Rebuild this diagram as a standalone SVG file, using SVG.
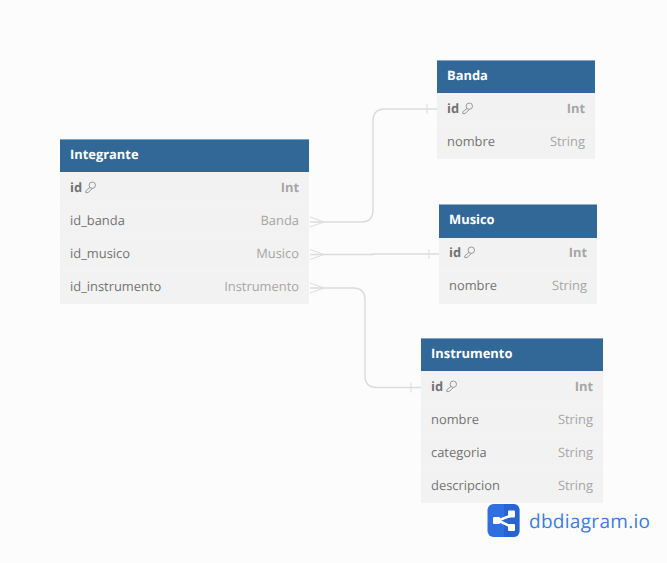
<svg xmlns="http://www.w3.org/2000/svg" width="667" height="563" viewBox="0 0 667 563">
<defs>
<style>
text{font-family:"Open Sans","Noto Sans",sans-serif;font-size:12.900px;text-rendering:geometricPrecision}
.h{fill:#fff;font-weight:700}
.n{fill:#737373}
.b{fill:#737373;font-weight:700}
.t{fill:#a6a6a6;text-anchor:end}
.ti{fill:#a6a6a6;text-anchor:end;font-weight:700}
.body{fill:#f2f2f2}
.head{fill:#316897}
.sep{stroke:#f4f4f4;stroke-width:1;fill:none}
.top{stroke:#7fa3c2;stroke-width:1;fill:none}
.c{fill:none;stroke:#dcdcdc;stroke-width:1.500}
.m{fill:none;stroke:#dcdcdc;stroke-width:1}
</style>
<g id="key"><g fill="none" stroke="#8f8f8f" stroke-width=".9"><circle cx="7.300" cy="-2.800" r="3.200"/><path d="M5 -.6L.8 2.800L.8 4.600L3 4.600L7.500 .4"/></g></g>
</defs>
<rect width="667" height="563" fill="#fcfcfc"/>
<g id="connectors">
<path class="c" d="M310 222H361Q373 222 373 210V121Q373 109 385 109H437"/>
<path class="m" d="M310 217L324 222L310 227M427 104V114"/>
<path class="c" d="M310 254.500H373V254H439"/>
<path class="m" d="M310 249.500L324 254.500L310 259.500M429 249V259"/>
<path class="c" d="M310 288H353Q365 288 365 300V376Q365 387.500 377 387.500H421"/>
<path class="m" d="M310 283L324 288L310 293M411 382.500V392.500"/>
</g>
<g id="integrante">
<rect class="body" x="60" y="139" width="249" height="165"/>
<rect class="head" x="60" y="139" width="249" height="33"/>
<path class="top" d="M60 139.500H309"/>
<path class="sep" d="M60 205.500H309M60 238.500H309M60 271.500H309"/>
<text class="h" x="70" y="159">Integrante</text>
<text class="b" x="70" y="192">id</text><use href="#key" x="85" y="188"/>
<text class="ti" x="299" y="192">Int</text>
<text class="n" x="70" y="225">id_banda</text><text class="t" x="299" y="225">Banda</text>
<text class="n" x="70" y="258">id_musico</text><text class="t" x="299" y="258">Musico</text>
<text class="n" x="70" y="291">id_instrumento</text><text class="t" x="299" y="291">Instrumento</text>
</g>
<g id="banda">
<rect class="body" x="437" y="60" width="158" height="99"/>
<rect class="head" x="437" y="60" width="158" height="33"/>
<path class="top" d="M437 60.500H595"/>
<path class="sep" d="M437 126.500H595"/>
<text class="h" x="447" y="80">Banda</text>
<text class="b" x="447" y="113">id</text><use href="#key" x="462" y="109"/>
<text class="ti" x="585" y="113">Int</text>
<text class="n" x="447" y="146">nombre</text><text class="t" x="585" y="146">String</text>
</g>
<g id="musico">
<rect class="body" x="439" y="204.500" width="158" height="99.500"/>
<rect class="head" x="439" y="204.500" width="158" height="33.500"/>
<path class="sep" d="M439 271.500H597"/>
<text class="h" x="449" y="224">Musico</text>
<text class="b" x="449" y="257">id</text><use href="#key" x="464" y="253"/>
<text class="ti" x="587" y="257">Int</text>
<text class="n" x="449" y="290">nombre</text><text class="t" x="587" y="290">String</text>
</g>
<g id="instrumento">
<rect class="body" x="421" y="338" width="182" height="165"/>
<rect class="head" x="421" y="338" width="182" height="33"/>
<path class="top" d="M421 338.500H603"/>
<path class="sep" d="M421 404.500H603M421 437.500H603M421 470.500H603"/>
<text class="h" x="431" y="358">Instrumento</text>
<text class="b" x="431" y="391">id</text><use href="#key" x="446" y="387"/>
<text class="ti" x="593" y="391">Int</text>
<text class="n" x="431" y="424">nombre</text><text class="t" x="593" y="424">String</text>
<text class="n" x="431" y="457">categoria</text><text class="t" x="593" y="457">String</text>
<text class="n" x="431" y="490">descripcion</text><text class="t" x="593" y="490">String</text>
</g>
<g id="logo">
<rect x="487.500" y="504" width="32" height="33" rx="6" fill="#2f6fe0"/>
<path d="M504 504H513.500Q519.500 504 519.500 510V531Q519.500 537 513.500 537H504Z" fill="#2259c9" opacity=".55"/>
<path d="M512 515L498 520.500L512 527" fill="none" stroke="#fff" stroke-width="2.500"/>
<rect x="493" y="517" width="7" height="7" rx="1" fill="#fff"/>
<rect x="508" y="510.500" width="7" height="7" rx="1" fill="#fff"/>
<rect x="508" y="524" width="7" height="7" rx="1" fill="#fff"/>
<text x="529" y="527.500" style="font-family:'Open Sans',sans-serif;font-size:19px;letter-spacing:.3px" fill="#3b7ddd">dbdiagram.io</text>
</g>
</svg>
